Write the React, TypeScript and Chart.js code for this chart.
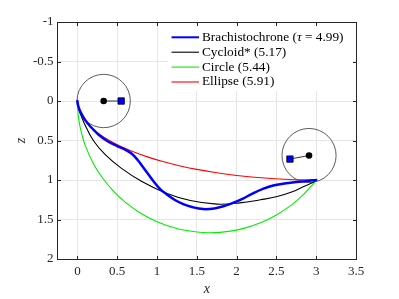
import React, { useEffect, useRef } from 'react';
import { Chart, registerables } from 'chart.js';

Chart.register(...registerables);

// ---- data ----
const brachistochroneX = [0, 0.01, 0.04, 0.09, 0.16, 0.26, 0.38, 0.5, 0.6, 0.68, 0.76, 0.83, 0.9, 0.97, 1.04, 1.12, 1.22, 1.33, 1.45, 1.58, 1.72, 1.85, 1.96, 2.08, 2.2, 2.33, 2.46, 2.6, 2.75, 2.9, 3];
const brachistochroneZ = [0, 0.06, 0.14, 0.23, 0.32, 0.42, 0.51, 0.57, 0.615, 0.665, 0.75, 0.845, 0.94, 1.035, 1.115, 1.18, 1.25, 1.305, 1.345, 1.368, 1.36, 1.328, 1.288, 1.235, 1.172, 1.112, 1.07, 1.045, 1.025, 1.012, 1.0];

const cycloidX = [0, 0.005, 0.03, 0.09, 0.2, 0.35, 0.55, 0.81, 1.1, 1.42, 1.75, 2.04, 2.3, 2.51, 2.7, 2.85, 2.95, 3];
const cycloidZ = [0, 0.045, 0.14, 0.29, 0.5, 0.68, 0.85, 1.02, 1.16, 1.26, 1.305, 1.29, 1.25, 1.21, 1.15, 1.08, 1.035, 1.0];

const circleX = [0, 0.005, 0.02, 0.05, 0.1, 0.2, 0.3, 0.45, 0.6, 0.8, 1.0, 1.25, 1.5, 1.67, 1.9, 2.1, 2.3, 2.5, 2.7, 2.85, 2.95, 3];
const circleZ = [0, 0.127, 0.255, 0.4, 0.568, 0.791, 0.953, 1.139, 1.28, 1.424, 1.527, 1.614, 1.658, 1.667, 1.65, 1.609, 1.542, 1.443, 1.308, 1.174, 1.064, 1.0];

const ellipseX = [0, 0.011, 0.046, 0.102, 0.181, 0.281, 0.402, 0.542, 0.702, 0.879, 1.072, 1.279, 1.5, 1.732, 1.974, 2.224, 2.479, 2.738, 3];
const ellipseZ = [0, 0.087, 0.174, 0.259, 0.342, 0.423, 0.5, 0.574, 0.643, 0.707, 0.766, 0.819, 0.866, 0.906, 0.94, 0.966, 0.985, 0.996, 1.0];

const legendLabels = ['Brachistochrone (τ = 4.99)', 'Cycloid* (5.17)', 'Circle (5.44)', 'Ellipse (5.91)'];
const seriesColors = ['#0000ff', '#000000', '#00ee00', '#ff0000'];
const seriesWidths = [2.5, 1.1, 1.1, 1.1];

const wheelCenterX = [0.33, 2.91];
const wheelCenterZ = [0, 0.69];
const wheelRadius = [0.335, 0.34];
const wheelMarkerX = [0.55, 2.67];
const wheelMarkerZ = [0, 0.735];

const xTickValues = [0, 0.5, 1, 1.5, 2, 2.5, 3, 3.5];
const zTickValues = [-1, -0.5, 0, 0.5, 1, 1.5, 2];

const FONT = "'Liberation Serif', 'DejaVu Serif', serif";
const AXIS_COLOR = '#262626';

const toPoints = (xs: number[], zs: number[]) => xs.map((x, i) => ({ x, y: zs[i] }));

const legendPlugin = {
  id: 'matlabLegend',
  afterDatasetsDraw(chart: any) {
    const { ctx, chartArea } = chart;
    const boxLeft = chartArea.left + 110.5;
    const boxRight = chartArea.right - 3;
    const boxTop = chartArea.top + 2;
    const boxHeight = 67;
    ctx.save();
    ctx.fillStyle = '#ffffff';
    ctx.fillRect(boxLeft, boxTop, boxRight - boxLeft, boxHeight);
    legendLabels.forEach((label, i) => {
      const y = boxTop + 13.3 + i * 14.9;
      ctx.strokeStyle = seriesColors[i];
      ctx.lineWidth = seriesWidths[i] === 2.5 ? 2 : 1.1;
      ctx.beginPath();
      ctx.moveTo(boxLeft + 3.5, y);
      ctx.lineTo(boxLeft + 31, y);
      ctx.stroke();
      ctx.fillStyle = '#000000';
      ctx.textBaseline = 'middle';
      ctx.textAlign = 'left';
      let tx = boxLeft + 34;
      const parts = label.split('τ');
      parts.forEach((part, j) => {
        ctx.font = `13.3px ${FONT}`;
        ctx.fillText(part, tx, y);
        tx += ctx.measureText(part).width;
        if (j < parts.length - 1) {
          ctx.font = `italic 13.3px ${FONT}`;
          ctx.fillText('τ', tx, y);
          tx += ctx.measureText('τ').width;
        }
      });
    });
    ctx.restore();
  },
};

const framePlugin = {
  id: 'matlabFrame',
  afterDraw(chart: any) {
    const { ctx, chartArea, scales } = chart;
    const L = Math.floor(chartArea.left) + 0.5;
    const R = Math.floor(chartArea.right) + 0.5;
    const T = Math.floor(chartArea.top) + 0.5;
    const B = Math.floor(chartArea.bottom) + 0.5;
    const len = 3.5;
    ctx.save();
    ctx.strokeStyle = AXIS_COLOR;
    ctx.lineWidth = 1;
    ctx.strokeRect(L, T, R - L, B - T);
    ctx.beginPath();
    xTickValues.forEach((v) => {
      const px = Math.round(scales.x.getPixelForValue(v)) + 0.5;
      ctx.moveTo(px, B);
      ctx.lineTo(px, B - len);
      ctx.moveTo(px, T);
      ctx.lineTo(px, T + len);
    });
    zTickValues.forEach((v) => {
      const py = Math.round(scales.y.getPixelForValue(v)) + 0.5;
      ctx.moveTo(L, py);
      ctx.lineTo(L + len, py);
      ctx.moveTo(R, py);
      ctx.lineTo(R - len, py);
    });
    ctx.stroke();
    ctx.restore();
  },
};

export default function App() {
  const canvasRef = useRef<HTMLCanvasElement | null>(null);

  useEffect(() => {
    if (!canvasRef.current) return;

    const curveSets = [
      [brachistochroneX, brachistochroneZ],
      [cycloidX, cycloidZ],
      [circleX, circleZ],
      [ellipseX, ellipseZ],
    ].map(([xs, zs], i) => ({
      label: legendLabels[i],
      data: toPoints(xs, zs),
      showLine: true,
      borderColor: seriesColors[i],
      backgroundColor: seriesColors[i],
      borderWidth: seriesWidths[i],
      pointRadius: 0,
      tension: 0.4,
      borderCapStyle: 'round',
      borderJoinStyle: 'round',
    }));

    const squares = wheelMarkerX.map((x, i) => ({
      label: 'marker' + i,
      data: [{ x, y: wheelMarkerZ[i] }],
      showLine: false,
      pointStyle: 'rect',
      pointRadius: 4.5,
      backgroundColor: '#0000ff',
      borderColor: '#000000',
      borderWidth: 0.8,
    }));

    const dots = wheelCenterX.map((x, i) => ({
      label: 'hub' + i,
      data: [{ x, y: wheelCenterZ[i] }],
      showLine: false,
      pointStyle: 'circle',
      pointRadius: 3.3,
      backgroundColor: '#000000',
      borderColor: '#000000',
      borderWidth: 0,
    }));

    const arms = wheelCenterX.map((x, i) => ({
      label: 'arm' + i,
      data: [
        { x, y: wheelCenterZ[i] },
        { x: wheelMarkerX[i], y: wheelMarkerZ[i] },
      ],
      showLine: true,
      borderColor: '#000000',
      borderWidth: 0.8,
      pointRadius: 0,
    }));

    const wheels = wheelCenterX.map((x, i) => ({
      label: 'wheel' + i,
      data: [{ x, y: wheelCenterZ[i] }],
      showLine: false,
      pointStyle: 'circle',
      pointRadius: (c: any) => {
        const sx = c.chart.scales.x;
        return Math.abs(sx.getPixelForValue(x + wheelRadius[i]) - sx.getPixelForValue(x));
      },
      backgroundColor: 'rgba(0,0,0,0)',
      borderColor: '#333333',
      borderWidth: 0.8,
    }));

    const chart = new Chart(canvasRef.current, {
      type: 'scatter',
      data: { datasets: [...squares, ...dots, ...arms, ...curveSets, ...wheels] as any },
      options: {
        responsive: false,
        animation: false,
        devicePixelRatio: 1,
        layout: { padding: { top: 22, right: 43, left: 0, bottom: 0 } },
        plugins: { legend: { display: false }, tooltip: { enabled: false } },
        events: [],
        scales: {
          x: {
            type: 'linear',
            min: -0.25,
            max: 3.5,
            afterBuildTicks: (s: any) => {
              s.ticks = xTickValues.map((v) => ({ value: v }));
            },
            afterFit: (s: any) => {
              s.height = 40;
            },
            grid: { color: '#e6e6e6', drawTicks: false, lineWidth: 1 },
            border: { display: false },
            ticks: {
              padding: 5,
              color: AXIS_COLOR,
              font: { family: FONT, size: 13 },
              autoSkip: false,
              maxRotation: 0,
              callback: (v: any) => String(v),
            },
            title: {
              display: true,
              text: 'x',
              color: AXIS_COLOR,
              font: { family: FONT, size: 14, style: 'italic' },
              padding: { top: 0, bottom: 1 },
            },
          },
          y: {
            type: 'linear',
            reverse: true,
            min: -1,
            max: 2,
            afterBuildTicks: (s: any) => {
              s.ticks = zTickValues.map((v) => ({ value: v }));
            },
            afterFit: (s: any) => {
              s.width = 57.5;
            },
            grid: { color: '#e6e6e6', drawTicks: false, lineWidth: 1 },
            border: { display: false },
            ticks: {
              padding: 4,
              color: AXIS_COLOR,
              font: { family: FONT, size: 13 },
              autoSkip: false,
              callback: (v: any) => String(v),
            },
            title: {
              display: true,
              text: 'z',
              color: AXIS_COLOR,
              font: { family: FONT, size: 14, style: 'italic' },
              padding: { top: 13, bottom: 0 },
            },
          },
        },
      } as any,
      plugins: [legendPlugin, framePlugin],
    });

    return () => chart.destroy();
  }, []);

  return (
    <div style={{ position: 'absolute', left: 0, top: 0, width: 399, height: 299, background: '#ffffff' }}>
      <canvas ref={canvasRef} width={399} height={299} style={{ display: 'block' }} />
    </div>
  );
}
